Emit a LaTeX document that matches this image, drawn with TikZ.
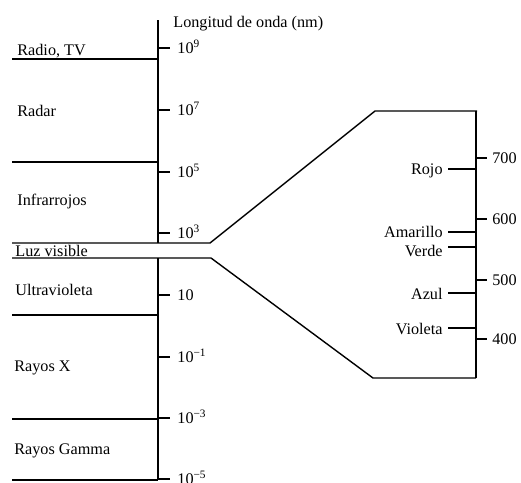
\documentclass[tikz,border=0pt]{standalone}
\usepackage{fontspec}
\setmainfont{Liberation Serif}
\begin{document}
\begin{tikzpicture}[x=0.5pt,y=-0.5pt,
  every node/.style={inner sep=0pt,font=\fontsize{8.1}{9}\selectfont},
  axis/.style={line width=1.2pt},
  band/.style={line width=0.7pt}]
  \useasboundingbox (0,0) rectangle (521,483);
  % escala de longitud de onda
  \draw[axis] (158,20) -- (158,243);
  \draw[axis] (158,258) -- (158,480);
  \node[anchor=base west] (titulo) at (173,27) {Longitud de onda (nm)};
  \foreach \y/\e [count=\i] in {48/9,110/7,172/5,233/3,295/,357/{−1},418/{−3},479/{−5}} {
    \draw[axis] (158,\y) -- (170,\y);
    \node[anchor=base west] (exp\i) at (177,\y+5.5) {10\textsuperscript{\e}};
  }
  % regiones del espectro
  \foreach \y in {59,162,315,419,480}
    \draw[band] (12,\y) -- (158,\y);
  \node[anchor=base west] (radio) at (17,55) {Radio, TV};
  \node[anchor=base west] (radar) at (17,116) {Radar};
  \node[anchor=base west] (infra) at (17,205) {Infrarrojos};
  \node[anchor=base west] (luz) at (15,256) {Luz visible};
  \node[anchor=base west] (ultra) at (15,295) {Ultravioleta};
  \node[anchor=base west] (rayosx) at (14,371) {Rayos X};
  \node[anchor=base west] (gamma) at (14,454) {Rayos Gamma};
  % ampliacion de la luz visible
  \draw[band] (12,243) -- (210,243) -- (375,111) -- (477,111);
  \draw[band] (12,258) -- (211,258) -- (373,378) -- (476,378);
  \draw[axis] (476,111) -- (476,378);
  \foreach \y/\v in {158/700,219/600,280/500,339/400} {
    \draw[axis] (476,\y) -- (487,\y);
    \node[anchor=base west] (nm\v) at (492,\y+5.5) {\v};
  }
  \foreach \y/\b/\c in {169/174/Rojo,232/237/Amarillo,247/256/Verde,293/299/Azul,328/334/Violeta} {
    \draw[band] (448,\y) -- (476,\y);
    \node[anchor=base east] (col\c) at (443,\b) {\c};
  }
\end{tikzpicture}
\end{document}
